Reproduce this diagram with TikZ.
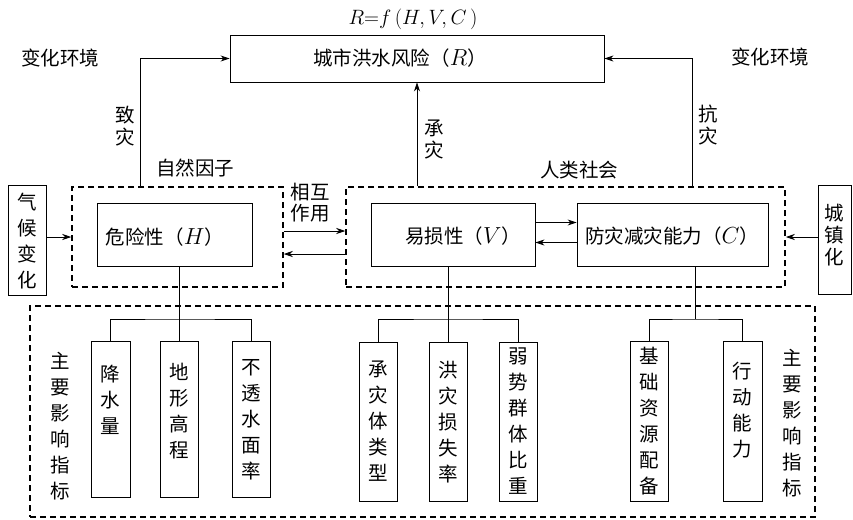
\documentclass[tikz,border=0pt]{standalone}
\usepackage{fontspec}
\newfontfamily\cjk{Noto Sans CJK SC}
\usetikzlibrary{arrows.meta}
\newcommand{\mv}[1]{\scalebox{1.12}{$#1$}}
\begin{document}
\begin{tikzpicture}[x=1pt,y=-1pt,
  box/.style={draw, line width=0.9pt, inner sep=0pt},
  dbox/.style={draw, line width=1.5pt, dash pattern=on 6pt off 4pt, inner sep=0pt},
  lbl/.style={font=\cjk\fontsize{19.5}{26}\selectfont, align=center, inner sep=0pt},
  lbls/.style={font=\cjk\fontsize{19.5}{22}\selectfont, align=center, inner sep=0pt},
  arr/.style={-{Stealth[length=9pt,width=6pt]}, line width=0.8pt},
  ln/.style={line width=0.8pt}]
\useasboundingbox (0,0) rectangle (853,519);
% top
\node[box, minimum width=374pt, minimum height=47pt] (R) at (417,58.5) {};
\node[lbl] (Rt) at (400,58) {城市洪水风险（\mv{R}）};
\node[inner sep=0pt, font=\fontsize{22}{24}\selectfont] (F) at (413,19) {$R{=}f\,(H,V,C\,)$};
\node[lbl] (envL) at (60,58) {变化环境};
\node[lbl] (envR) at (770,57) {变化环境};
% dashed groups
\node[dbox, minimum width=211pt, minimum height=100pt] (N) at (177.5,237) {};
\node[dbox, minimum width=439pt, minimum height=100pt] (S) at (565.5,237) {};
\node[dbox, minimum width=785pt, minimum height=211pt] (B) at (422.5,411.5) {};
\node[lbl] (nat) at (195,168) {自然因子};
\node[lbl] (hum) at (579,170) {人类社会};
% main boxes
\node[box, minimum width=155pt, minimum height=63pt] (H) at (174.5,234.5) {};
\node[lbl] (Ht) at (165,237) {危险性（\mv{H}）};
\node[box, minimum width=164pt, minimum height=63pt] (V) at (453,234.5) {};
\node[lbl] (Vt) at (463,236) {易损性（\mv{V}）};
\node[box, minimum width=191pt, minimum height=63pt] (C) at (672.5,234.5) {};
\node[lbl] (Ct) at (672,236) {防灾减灾能力（\mv{C}）};
% side boxes
\node[box, minimum width=38pt, minimum height=110pt] (clim) at (27,240) {};
\node[lbl] (climt) at (27,241) {气\\候\\变\\化};
\node[box, minimum width=33pt, minimum height=109pt] (urb) at (834.5,239.5) {};
\node[lbls] (urbt) at (834.5,235) {城\\镇\\化};
% labels on connectors
\node[lbls] (l1) at (125,126) {致\\灾};
\node[lbls] (l2) at (434,139) {承\\灾};
\node[lbls] (l3) at (708,125) {抗\\灾};
\node[font=\cjk\fontsize{19.5}{21}\selectfont, align=center, inner sep=0pt] (l4) at (310,203) {相互\\作用};
% connectors to R
\coordinate (zA) at (140,187);
\coordinate (kA) at (692,187);
\draw[arr] (zA) |- (R.west);
\draw[arr] (S.north -| R.south) -- (R.south);
\draw[arr] (kA) |- (R.east);
% side arrows
\draw[arr] (clim.east |- N.west) -- (N.west);
\draw[arr] (urb.west |- S.east) -- (S.east);
% interaction
\draw[arr] ([yshift=6pt]N.east) -- ([yshift=6pt]N.east -| S.west);
\draw[arr] ([yshift=-17pt]S.west) -- ([yshift=-17pt]S.west -| N.east);
\draw[arr] ([yshift=12pt]V.east) -- ([yshift=12pt]V.east -| C.west);
\draw[arr] ([yshift=-8pt]C.west) -- ([yshift=-8pt]C.west -| V.east);
% indicator boxes
\node[box, minimum width=39pt, minimum height=156pt] (h1) at (110.5,419) {};
\node[box, minimum width=38pt, minimum height=156pt] (h2) at (179,419) {};
\node[box, minimum width=38pt, minimum height=156pt] (h3) at (251,419) {};
\node[box, minimum width=38pt, minimum height=159pt] (v1) at (378,421.5) {};
\node[box, minimum width=38pt, minimum height=159pt] (v2) at (448,421.5) {};
\node[box, minimum width=38pt, minimum height=159pt] (v3) at (518,421.5) {};
\node[box, minimum width=38pt, minimum height=160pt] (c1) at (649,421) {};
\node[box, minimum width=39pt, minimum height=160pt] (c2) at (742.5,421) {};
\node[lbl] (h1t) at (110.5,400) {降\\水\\量};
\node[lbl] (h2t) at (179,411) {地\\形\\高\\程};
\node[lbl] (h3t) at (251,420) {不\\透\\水\\面\\率};
\node[lbl] (v1t) at (378,421) {承\\灾\\体\\类\\型};
\node[lbl] (v2t) at (448,422) {洪\\灾\\损\\失\\率};
\node[lbl] (v3t) at (518,421) {弱\\势\\群\\体\\比\\重};
\node[lbl] (c1t) at (649,421) {基\\础\\资\\源\\配\\备};
\node[lbl] (c2t) at (742.5,410) {行\\动\\能\\力};
\node[lbl] (kL) at (60,426) {主\\要\\影\\响\\指\\标};
\node[lbl] (kR) at (792,423) {主\\要\\影\\响\\指\\标};
% tree lines
\coordinate (hb) at (179,319);
\coordinate (vb) at (448,319);
\coordinate (cb) at (695,319);
\draw[ln] (H.south -| hb) -- (h2.north);
\draw[ln] (h1.north) |- (hb) -| (h3.north);
\draw[ln] (V.south -| vb) -- (v2.north);
\draw[ln] (v1.north) |- (vb) -| (v3.north);
\draw[ln] (C.south -| cb) -- (cb);
\draw[ln] (c1.north) |- (cb) -| (c2.north);
\end{tikzpicture}
\end{document}
